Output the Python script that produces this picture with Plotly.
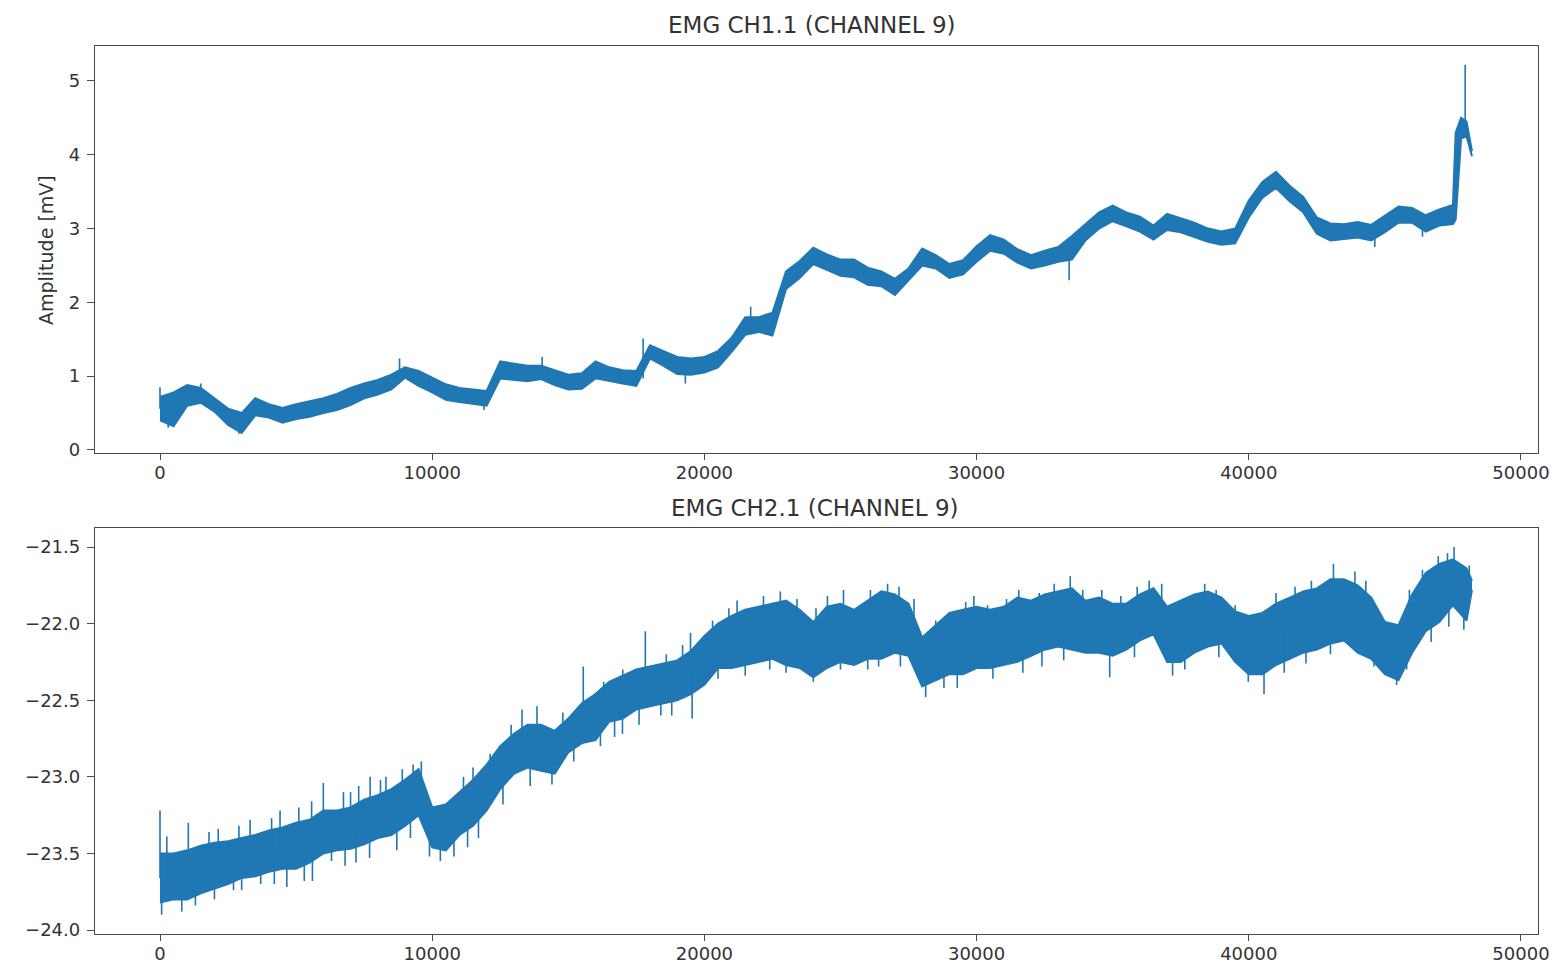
import numpy as np
import plotly.graph_objects as go

# Sample indices of the two recordings
SAMPLES_CH1 = list(range(0, 47501, 500)) + [47600, 47800, 48000, 48200]
SAMPLES_CH2 = list(range(0, 48001, 500)) + [48200]

# EMG CH1.1 - upper / lower edge of the dense part of the trace (mV)
CH1_HIGH = [0.72, 0.78, 0.88, 0.84, 0.70, 0.56, 0.50, 0.70, 0.62, 0.57,
            0.62, 0.66, 0.70, 0.76, 0.84, 0.90, 0.95, 1.02, 1.12, 1.07,
            0.98, 0.89, 0.84, 0.82, 0.80, 1.20, 1.17, 1.14, 1.14, 1.08,
            1.02, 1.04, 1.20, 1.12, 1.08, 1.07, 1.42, 1.34, 1.26, 1.24,
            1.26, 1.34, 1.52, 1.80, 1.80, 1.86, 2.42, 2.56, 2.74, 2.65,
            2.58, 2.58, 2.47, 2.42, 2.32, 2.46, 2.73, 2.64, 2.52, 2.57,
            2.76, 2.91, 2.85, 2.72, 2.64, 2.70, 2.75, 2.90, 3.06, 3.22,
            3.31, 3.22, 3.16, 3.04, 3.20, 3.14, 3.08, 3.00, 2.96, 3.00,
            3.38, 3.63, 3.77, 3.58, 3.43, 3.15, 3.07, 3.06, 3.09, 3.05,
            3.18, 3.30, 3.28, 3.18, 3.26, 3.32, 4.30, 4.50, 4.45, 4.05]
CH1_LOW = [0.40, 0.32, 0.60, 0.64, 0.52, 0.34, 0.23, 0.47, 0.44, 0.37,
           0.42, 0.45, 0.50, 0.54, 0.61, 0.70, 0.75, 0.82, 0.98, 0.87,
           0.78, 0.68, 0.65, 0.62, 0.60, 0.97, 0.95, 0.93, 0.96, 0.88,
           0.82, 0.83, 0.97, 0.93, 0.90, 0.87, 1.24, 1.14, 1.03, 1.02,
           1.05, 1.12, 1.33, 1.56, 1.60, 1.55, 2.18, 2.33, 2.52, 2.44,
           2.36, 2.34, 2.24, 2.22, 2.10, 2.30, 2.50, 2.46, 2.33, 2.38,
           2.55, 2.70, 2.66, 2.54, 2.46, 2.50, 2.55, 2.58, 2.84, 3.00,
           3.10, 3.03, 2.96, 2.85, 2.98, 2.95, 2.89, 2.82, 2.78, 2.80,
           3.15, 3.42, 3.55, 3.37, 3.22, 2.93, 2.84, 2.86, 2.88, 2.84,
           2.95, 3.08, 3.08, 2.96, 3.04, 3.06, 3.12, 4.22, 4.25, 3.98]
# isolated excursions beyond the dense part: sample index and extreme value
CH1_SPIKE_AT = [0, 300, 1500, 2900, 8800, 11900, 14040, 17750, 19300, 21700,
                33400, 44630, 46380, 47950]
CH1_SPIKE_TIP = [0.85, 0.30, 0.90, 0.22, 1.24, 0.54, 1.26, 1.51, 0.90, 1.94,
                 2.30, 2.75, 2.89, 5.22]

# EMG CH2.1 - upper / lower edge of the dense part of the trace
CH2_HIGH = [-23.50, -23.50, -23.48, -23.45, -23.43, -23.42, -23.40, -23.38, -23.35, -23.33,
            -23.30, -23.28, -23.22, -23.22, -23.20, -23.15, -23.12, -23.08, -23.02, -22.95,
            -23.20, -23.18, -23.10, -23.02, -22.92, -22.80, -22.72, -22.66, -22.66, -22.70,
            -22.62, -22.52, -22.46, -22.38, -22.34, -22.30, -22.28, -22.26, -22.24, -22.18,
            -22.08, -22.00, -21.95, -21.91, -21.89, -21.87, -21.85, -21.91, -21.99, -21.89,
            -21.87, -21.91, -21.85, -21.79, -21.81, -21.87, -22.09, -22.01, -21.93, -21.91,
            -21.89, -21.91, -21.89, -21.83, -21.85, -21.81, -21.79, -21.77, -21.85, -21.83,
            -21.87, -21.87, -21.81, -21.77, -21.89, -21.85, -21.81, -21.79, -21.83, -21.92,
            -21.95, -21.93, -21.87, -21.83, -21.79, -21.77, -21.71, -21.71, -21.75, -21.83,
            -21.99, -22.01, -21.81, -21.67, -21.61, -21.58, -21.64, -21.72]
CH2_LOW = [-23.82, -23.80, -23.80, -23.76, -23.73, -23.70, -23.66, -23.65, -23.62, -23.60,
           -23.60, -23.56, -23.50, -23.48, -23.47, -23.44, -23.40, -23.38, -23.32, -23.25,
           -23.46, -23.48, -23.38, -23.32, -23.22, -23.08, -22.98, -22.94, -22.96, -22.98,
           -22.84, -22.78, -22.76, -22.64, -22.62, -22.56, -22.54, -22.52, -22.50, -22.46,
           -22.40, -22.29, -22.29, -22.27, -22.25, -22.23, -22.27, -22.29, -22.35, -22.29,
           -22.25, -22.27, -22.23, -22.23, -22.19, -22.21, -22.41, -22.37, -22.33, -22.33,
           -22.29, -22.29, -22.27, -22.25, -22.21, -22.17, -22.15, -22.17, -22.19, -22.19,
           -22.21, -22.17, -22.11, -22.07, -22.25, -22.25, -22.19, -22.15, -22.13, -22.25,
           -22.33, -22.33, -22.27, -22.23, -22.19, -22.17, -22.13, -22.11, -22.19, -22.23,
           -22.33, -22.37, -22.19, -22.05, -21.99, -21.88, -21.98, -21.78]
CH2_SPIKE_AT = [0, 60, 250, 800, 1040, 1300, 1800, 2000, 2140, 2700,
                2900, 3000, 3310, 3700, 4100, 4200, 4410, 4660, 5100, 5300,
                5570, 5600, 6000, 6300, 6740, 6800, 7000, 7200, 7300, 7700,
                7720, 8100, 8300, 8700, 8900, 9200, 9300, 9600, 9900, 10300,
                10800, 11150, 11300, 11500, 11700, 12130, 12600, 12900, 13300, 13600,
                13850, 14400, 14800, 15200, 15550, 16180, 16300, 16700, 16990, 17000,
                17600, 17830, 18400, 18600, 18800, 19200, 19490, 19550, 20300, 20500,
                20900, 21200, 21500, 22170, 22400, 22790, 23000, 23400, 24000, 24100,
                24520, 25000, 25110, 26000, 26100, 26400, 26730, 27150, 27200, 27700,
                28130, 28500, 28800, 29290, 29600, 29900, 30400, 30600, 31100, 31550,
                31700, 32300, 32400, 32850, 33200, 33440, 33900, 34600, 34890, 35300,
                35800, 35900, 36340, 36800, 37200, 37400, 37650, 38380, 38800, 38900,
                39500, 39980, 40560, 41000, 41300, 41700, 42100, 42300, 43000, 43110,
                43900, 44300, 44600, 45430, 45800, 45900, 46380, 46700, 46960, 47300,
                47350, 47540, 47900, 48100]
CH2_SPIKE_TIP = [-23.22, -23.90, -23.39, -23.88, -23.30, -23.84, -23.36, -23.80, -23.34, -23.74,
                 -23.32, -23.74, -23.28, -23.70, -23.27, -23.70, -23.22, -23.72, -23.20, -23.68,
                 -23.16, -23.68, -23.04, -23.55, -23.10, -23.58, -23.10, -23.56, -23.06, -23.53,
                 -23.00, -23.02, -23.00, -23.48, -22.95, -23.40, -22.92, -22.90, -23.52, -23.55,
                 -23.52, -23.00, -23.46, -22.94, -23.40, -22.85, -23.18, -22.66, -22.56, -23.06,
                 -22.54, -23.05, -22.58, -22.90, -22.28, -22.80, -22.38, -22.74, -22.72, -22.30,
                 -22.66, -22.05, -22.60, -22.20, -22.60, -22.14, -22.06, -22.62, -21.98, -22.36,
                 -21.90, -21.85, -22.34, -21.82, -22.30, -21.79, -22.32, -21.84, -22.38, -21.90,
                 -21.82, -22.30, -21.78, -22.30, -21.78, -22.28, -21.74, -21.76, -22.28, -21.84,
                 -22.48, -21.98, -22.42, -22.42, -21.86, -21.82, -21.88, -22.36, -21.84, -21.78,
                 -22.32, -21.80, -22.28, -21.74, -22.24, -21.69, -21.78, -21.78, -22.35, -21.82,
                 -22.22, -21.76, -21.72, -21.74, -22.34, -21.90, -22.30, -21.74, -21.78, -22.22,
                 -21.88, -22.38, -22.46, -21.80, -22.32, -21.76, -22.26, -21.72, -22.20, -21.61,
                 -21.66, -21.72, -22.28, -22.40, -22.30, -21.78, -21.65, -22.12, -21.56, -21.54,
                 -22.02, -21.50, -22.04, -21.62]

X_TICKS = [0, 10000, 20000, 30000, 40000, 50000]
Y1_TICKS = [0, 1, 2, 3, 4, 5]
Y2_TICKS = [-24.0, -23.5, -23.0, -22.5, -22.0, -21.5]

TITLES = ["EMG CH1.1 (CHANNEL 9)", "EMG CH2.1 (CHANNEL 9)"]
Y_LABEL = "Amplitude [mV]"

BLUE = "#1f77b4"
INK = "#333333"
FRAME = "#4a4a4a"
FONT = "DejaVu Sans"


def trace_band(fig, xs, lo, hi, spike_at, spike_tip, xa, ya):
    """Dense band of the signal plus its isolated excursions as thin strokes."""
    fig.add_trace(go.Scatter(x=xs, y=lo, mode="lines", line=dict(color=BLUE, width=2),
                             xaxis=xa, yaxis=ya, hoverinfo="skip"))
    fig.add_trace(go.Scatter(x=xs, y=hi, mode="lines", line=dict(color=BLUE, width=2),
                             fill="tonexty", fillcolor=BLUE,
                             xaxis=xa, yaxis=ya, hoverinfo="skip"))
    grid = np.asarray(xs)
    mid = (np.asarray(lo) + np.asarray(hi)) / 2.0
    sx, sy = [], []
    for s, tip in zip(spike_at, spike_tip):
        base = mid[int(np.argmin(np.abs(grid - s)))]
        sx += [s, s, None]
        sy += [base, tip, None]
    fig.add_trace(go.Scatter(x=sx, y=sy, mode="lines", line=dict(color=BLUE, width=1.6),
                             xaxis=xa, yaxis=ya, hoverinfo="skip", connectgaps=False))


fig = go.Figure()
trace_band(fig, SAMPLES_CH1, CH1_LOW, CH1_HIGH, CH1_SPIKE_AT, CH1_SPIKE_TIP, "x", "y")
trace_band(fig, SAMPLES_CH2, CH2_LOW, CH2_HIGH, CH2_SPIKE_AT, CH2_SPIKE_TIP, "x2", "y2")


def minus(v):
    return f"{v:.1f}".replace("-", "\u2212")


frame_style = dict(
    automargin=False,
    showgrid=False, zeroline=False, showline=True, mirror=True,
    linecolor=FRAME, linewidth=1.3, ticks="outside",
    tickwidth=1.2, tickcolor=FRAME,
    tickfont=dict(family=FONT, size=18, color=INK),
)
x_style = dict(ticklen=6, ticklabelstandoff=-3, **frame_style)
y_style = dict(ticklen=7, ticklabelstandoff=3, **frame_style)

x_dom = [95 / 1558, 1538 / 1558]
x_range = [-2388, 50625]

fig.update_layout(
    width=1558, height=969,
    margin=dict(l=0, r=0, t=0, b=0, autoexpand=False),
    paper_bgcolor="white", plot_bgcolor="white",
    showlegend=False,
    xaxis=dict(domain=x_dom, range=x_range, anchor="y",
               tickvals=X_TICKS, ticktext=[str(t) for t in X_TICKS], **x_style),
    yaxis=dict(domain=[1 - 453 / 969, 1 - 46 / 969], range=[-0.041, 5.474], anchor="x",
               tickvals=Y1_TICKS, ticktext=[str(t) for t in Y1_TICKS], **y_style),
    xaxis2=dict(domain=x_dom, range=x_range, anchor="y2",
                tickvals=X_TICKS, ticktext=[str(t) for t in X_TICKS], **x_style),
    yaxis2=dict(domain=[1 - 934 / 969, 1 - 528 / 969], range=[-24.026, -21.376], anchor="x2",
                tickvals=Y2_TICKS, ticktext=[minus(t) for t in Y2_TICKS], **y_style),
    annotations=[
        dict(text=TITLES[0], x=812 / 1558, y=1 - 25 / 969, xref="paper", yref="paper",
             showarrow=False, xanchor="center", yanchor="middle",
             font=dict(family=FONT, size=23, color=INK)),
        dict(text=TITLES[1], x=815 / 1558, y=1 - 508 / 969, xref="paper", yref="paper",
             showarrow=False, xanchor="center", yanchor="middle",
             font=dict(family=FONT, size=23, color=INK)),
        dict(text=Y_LABEL, x=46 / 1558, y=1 - 250 / 969, xref="paper", yref="paper",
             showarrow=False, xanchor="center", yanchor="middle", textangle=-90,
             font=dict(family=FONT, size=19, color=INK)),
    ],
)

# the figure fills the whole page, so the page itself gets no outer margin
page_fit = "document.body.style.margin='0';document.documentElement.style.overflow='hidden';"

fig.write_html("out.html", post_script=page_fit)
